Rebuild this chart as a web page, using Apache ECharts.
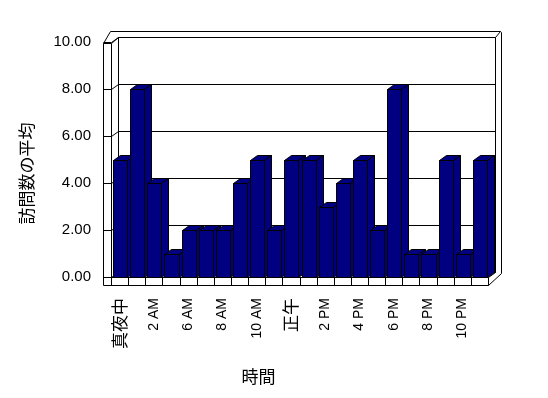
<!DOCTYPE html>
<html lang="ja">
<head>
<meta charset="UTF-8">
<title>訪問数の平均</title>
<script src="https://cdn.jsdelivr.net/npm/echarts@6/dist/echarts.min.js"></script>
<style>
  body { margin: 0; background: #fff; }
  #chart { width: 548px; height: 398px; }
</style>
</head>
<body>
<div id="chart"></div>
<script>
// データ
const CATEGORIES = ['真夜中', '1 AM', '2 AM', '3 AM', '6 AM', '7 AM', '8 AM', '9 AM', '10 AM', '11 AM',
  '正午', '1 PM', '2 PM', '3 PM', '4 PM', '5 PM', '6 PM', '7 PM', '8 PM', '9 PM', '10 PM', '11 PM'];
const VISITS = [5, 8, 4, 1, 2, 2, 2, 4, 5, 2, 5, 5, 3, 4, 5, 2, 8, 1, 1, 5, 1, 5];
const Y_TICKS = [0, 2, 4, 6, 8, 10];

const BAR_COLOR = '#000080';
const DX = 7, DY = -5;   // 奥行き
const FONT = "'Liberation Sans', 'Noto Sans CJK JP', sans-serif";

const chart = echarts.init(document.getElementById('chart'));

const px = v => Math.round(v) + 0.5;
const line = (x1, y1, x2, y2) => ({
  type: 'line',
  shape: { x1: px(x1), y1: px(y1), x2: px(x2), y2: px(y2) },
  style: { stroke: '#000', lineWidth: 1 }
});
const poly = (pts, fill) => ({
  type: 'polygon',
  shape: { points: pts.map(p => [px(p[0]), px(p[1])]) },
  style: { fill: fill, stroke: '#000', lineWidth: 1 }
});

// 壁と床
function renderFrame(params, api) {
  const cs = params.coordSys;
  const x0 = cs.x, x1 = cs.x + cs.width;
  const y0 = api.coord([0, 0])[1];
  const yt = api.coord([0, 10])[1];
  const cw = api.size([1, 0])[0];
  const kids = [];
  // 外枠
  kids.push(poly([[x0 - 8, yt + 1], [x0 - 1, yt - 11], [x1 + 12, yt - 11], [x1 + 13, yt - 10],
    [x1 + 13, y0 - 4], [x1, y0 + 8], [x0 - 8, y0 + 8]], '#fff'));
  // 奥の壁
  kids.push(poly([[x0 + DX, yt + DY], [x1 + DX, yt + DY], [x1 + DX, y0 + DY], [x0 + DX, y0 + DY]], '#fff'));
  kids.push(line(x1 + DX, yt + DY, x1 + 12, yt - 11));
  kids.push(line(x0, yt + 1, x0 + DX, yt + DY));
  kids.push(line(x0 - 8, yt + 1, x0, yt + 1));
  kids.push(line(x0, yt + 1, x0, y0));
  // 目盛線
  Y_TICKS.forEach(v => {
    const y = api.coord([0, v])[1];
    kids.push(line(x0 - 8, y, x0, y));
    kids.push(line(x0, y, x0 + DX, y + DY));
    kids.push(line(x0 + DX, y + DY, x1 + DX, y + DY));
  });
  // 床
  kids.push(line(x0, y0, x1, y0));
  kids.push(line(x1, y0, x1 + DX, y0 + DY));
  kids.push(line(x1, y0, x1, y0 + 8));
  for (let i = 0; i < CATEGORIES.length; i++) {
    const x = x0 + i * cw;
    kids.push(line(x, y0, x, y0 + 8));
  }
  return { type: 'group', children: kids };
}

// 3D棒
function renderBar(params, api) {
  const top = api.coord([api.value(0), api.value(1)]);
  const base = api.coord([api.value(0), 0]);
  const cw = api.size([1, 0])[0];
  const l = top[0] - cw / 2 + 2;
  const r = l + cw - 3;
  const t = top[1], b = base[1];
  return {
    type: 'group',
    children: [
      poly([[l, t], [r, t], [r, b], [l, b]], BAR_COLOR),
      poly([[l, t], [r, t], [r + DX, t + DY], [l + DX, t + DY]], BAR_COLOR),
      poly([[r, t], [r + DX, t + DY], [r + DX, b + DY], [r, b]], BAR_COLOR)
    ]
  };
}

const option = {
  backgroundColor: '#fff',
  animation: false,
  grid: { left: 111, right: 60, top: 42, bottom: 121 },
  xAxis: {
    type: 'category',
    data: CATEGORIES,
    name: '時間',
    nameLocation: 'middle',
    nameGap: 91,
    nameTextStyle: { fontFamily: 'Noto Sans CJK JP', fontSize: 17, color: '#000', padding: [0, 82, 0, 0] },
    axisLine: { show: false },
    axisTick: { show: false },
    axisLabel: {
      interval: 1,
      rotate: 90,
      margin: 21,
      color: '#000',
      fontFamily: FONT,
      fontSize: 14,
      formatter: v => /AM|PM/.test(v) ? v : '{jp|' + v + '}',
      rich: { jp: { fontFamily: 'Noto Sans CJK JP', fontSize: 17, color: '#000' } }
    }
  },
  yAxis: {
    type: 'value',
    min: 0,
    max: 10,
    interval: 2,
    name: '訪問数の平均',
    nameLocation: 'middle',
    nameRotate: 90,
    nameGap: 76,
    nameTextStyle: { fontFamily: 'Noto Sans CJK JP', fontSize: 17, color: '#000', padding: [0, 28, 0, 0] },
    axisLine: { show: false },
    axisTick: { show: false },
    splitLine: { show: false },
    axisLabel: {
      margin: 20,
      color: '#000',
      fontFamily: FONT,
      fontSize: 15,
      formatter: v => v.toFixed(2)
    }
  },
  series: [
    {
      type: 'custom',
      z: 1,
      silent: true,
      data: [[0, 0]],
      renderItem: renderFrame
    },
    {
      type: 'custom',
      z: 2,
      data: VISITS.map((v, i) => [i, v]),
      encode: { x: 0, y: 1 },
      renderItem: renderBar
    }
  ]
};

chart.setOption(option);
</script>
</body>
</html>
